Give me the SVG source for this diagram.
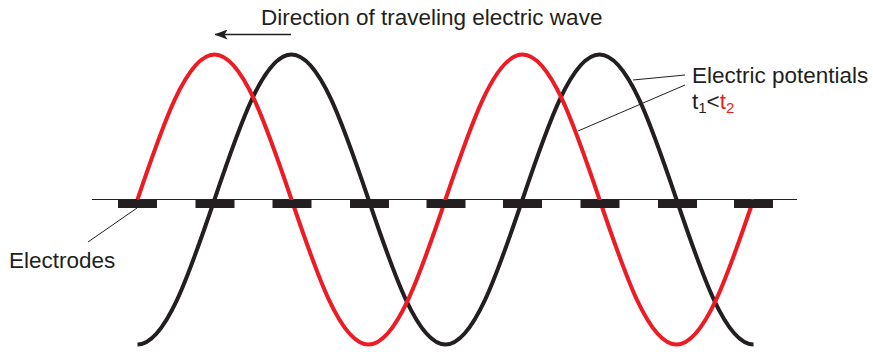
<svg xmlns="http://www.w3.org/2000/svg" width="873" height="352" viewBox="0 0 873 352">
<defs>
<style>
.lbl{font-family:"Liberation Sans",Arial,sans-serif;font-size:22.5px;fill:#231F20}
.red{fill:#ED1C24}
.wave{fill:none;stroke-width:4;stroke-linecap:butt;stroke-linejoin:round}
.lead{fill:none;stroke:#231F20;stroke-width:1}
.el{fill:#231F20}
</style>
<marker id="ah" viewBox="0 0 13 10" refX="12.5" refY="5" markerWidth="13" markerHeight="10" markerUnits="userSpaceOnUse" orient="auto">
<path d="M0,0 L13,5 L0,10 L3,5 Z" fill="#231F20"/>
</marker>
</defs>
<rect width="873" height="352" fill="#fff"/>
<g id="axis">
<line x1="92" y1="199.5" x2="797" y2="199.5" stroke="#231F20" stroke-width="1.2"/>
</g>
<g id="waves">
<path id="wave-t1" class="wave" stroke="#231F20" d="M137.5,344.5 c27.87,0 51.89,-70.72 77,-145 c25.11,-74.28 49.13,-145 77,-145 c27.87,0 51.89,70.72 77,145 c25.11,74.28 49.13,145 77,145 c27.87,0 51.89,-70.72 77,-145 c25.11,-74.28 49.13,-145 77,-145 c27.87,0 51.89,70.72 77,145 c25.11,74.28 49.13,145 77,145"/>
<path id="wave-t2" class="wave" stroke="#ED1C24" d="M137.5,199.5 c25.11,-74.28 49.13,-145 77,-145 c27.87,0 51.89,70.72 77,145 c25.11,74.28 49.13,145 77,145 c27.87,0 51.89,-70.72 77,-145 c25.11,-74.28 49.13,-145 77,-145 c27.870,0 51.89,70.72 77,145 c25.11,74.28 49.13,145 77,145 c27.87,0 51.89,-70.72 77,-145"/>
</g>
<g id="electrodes">
<rect class="el" x="118" y="200" width="39" height="8"/>
<rect class="el" x="195.5" y="200" width="39" height="8"/>
<rect class="el" x="272.5" y="200" width="39" height="8"/>
<rect class="el" x="350" y="200" width="39" height="8"/>
<rect class="el" x="426.5" y="200" width="39" height="8"/>
<rect class="el" x="503" y="200" width="39" height="8"/>
<rect class="el" x="580.5" y="200" width="39" height="8"/>
<rect class="el" x="658" y="200" width="39" height="8"/>
<rect class="el" x="734" y="200" width="39" height="8"/>
</g>
<g id="connectors">
<line class="lead" x1="137" y1="208" x2="88" y2="242"/>
<line class="lead" x1="685" y1="75" x2="633" y2="80"/>
<line class="lead" x1="685" y1="85" x2="578" y2="131"/>
<line x1="291" y1="34.5" x2="215" y2="34.5" stroke="#231F20" stroke-width="1.4" marker-end="url(#ah)"/>
</g>
<g id="label-direction">
<text class="lbl" x="261" y="25" font-size="22.8">Direction of traveling electric wave</text>
</g>
<g id="label-potentials">
<text class="lbl" x="692" y="82.5">Electric potentials</text>
<text class="lbl" x="692" y="109">t<tspan font-size="15" dy="4">1</tspan><tspan dy="-4">&lt;</tspan><tspan class="red">t</tspan><tspan class="red" font-size="15" dy="4">2</tspan></text>
</g>
<g id="label-electrodes">
<text class="lbl" x="9" y="268">Electrodes</text>
</g>
</svg>
